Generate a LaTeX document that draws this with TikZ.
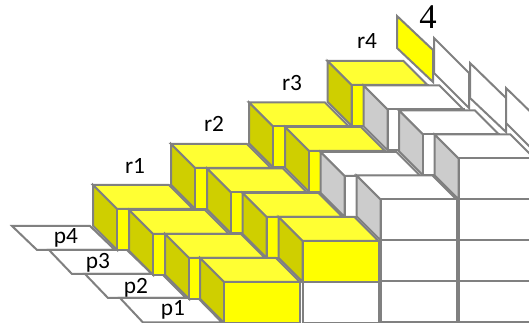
\documentclass[tikz,border=0pt]{standalone}
\usepackage{fontspec}
\setsansfont{Carlito}
\setmainfont{Liberation Serif}

\definecolor{boxgray}{HTML}{808080}
\definecolor{yellowtopfill}{HTML}{FFFF33}
\definecolor{yellowfrontfill}{HTML}{FFFF00}
\definecolor{yellowsidefill}{HTML}{CFCF00}
\definecolor{whitesidefill}{HTML}{CCCCCC}

\tikzset{
  yellowtop/.style = {draw = boxgray, fill = yellowtopfill},
  yellowside/.style = {draw = boxgray, fill = yellowsidefill},
  yellowfront/.style = {draw = boxgray, fill = yellowfrontfill},
  whitetop/.style = {draw = boxgray, fill = white},
  whiteside/.style = {draw = boxgray, fill = whitesidefill},
  whitefront/.style = {draw = boxgray, fill = white},
  rowlabel/.style = {font = \sffamily\fontsize{17.5}{17.5}\selectfont, text = black, inner sep = 0pt}
}

\newcommand{\cellbox}[3]{
  \filldraw[#3top] (#1, #2) -- ++(76, 0) -- ++(-24, -24) -- ++(-76, 0) -- cycle;
  \filldraw[#3side] (#1, #2) -- ++(-24, -24) -- ++(0, 40.7) -- ++(24, 24) -- cycle;
  \filldraw[#3front] (#1, #2) rectangle ++(76, 40.7);
}

\begin{document}
\begin{tikzpicture}[x = 0.75pt, y = -0.75pt, line width = 1.5pt]
  \useasboundingbox (0, 0) rectangle (529, 323);
  \clip (0, 0) rectangle (529, 323);

  % back plates
  \filldraw[yellowfront] (397, 16) -- (433, 50) -- (433, 82) -- (397, 48) -- cycle;
  \filldraw[whitefront] (434, 38) -- (469, 73) -- (469, 108) -- (434, 73) -- cycle;
  \filldraw[whitefront] (470, 63) -- (506, 98) -- (506, 132) -- (470, 98) -- cycle;
  \filldraw[whitefront] (506, 88) -- (542, 123) -- (542, 159) -- (506, 123) -- cycle;

  % ground plates
  \filldraw[whitefront] (12, 226) -- (90, 226) -- (115, 250) -- (37, 250) -- cycle;
  \filldraw[whitefront] (49, 250) -- (127, 250) -- (152, 274) -- (72, 274) -- cycle;
  \filldraw[whitefront] (85, 274) -- (162, 274) -- (186, 298) -- (108, 298) -- cycle;
  \filldraw[whitefront] (120, 298) -- (198, 298) -- (222, 322.5) -- (143, 322.5) -- cycle;

  % row p4
  \cellbox{351.5}{85}{yellow}
  \cellbox{273}{126.5}{yellow}
  \cellbox{195}{168}{yellow}
  \cellbox{117}{209}{yellow}

  % row p3
  \cellbox{387.5}{109.5}{white}
  \cellbox{309}{151}{yellow}
  \cellbox{231}{192.5}{yellow}
  \cellbox{153}{234}{yellow}

  % row p2
  \cellbox{423}{134.5}{white}
  \cellbox{344.5}{176}{white}
  \cellbox{266.5}{217}{yellow}
  \cellbox{189}{258}{yellow}

  % row p1
  \cellbox{458.5}{158.5}{white}
  \cellbox{380.5}{199.5}{white}
  \cellbox{302.5}{241}{yellow}
  \cellbox{224}{282}{yellow}

  % cells under the front row
  \filldraw[whitefront] (458.5, 199.5) rectangle ++(76, 41);
  \filldraw[whitefront] (458.5, 240.5) rectangle ++(76, 41);
  \filldraw[whitefront] (458.5, 281.5) rectangle ++(76, 41);
  \filldraw[whitefront] (380.5, 240.5) rectangle ++(76, 41);
  \filldraw[whitefront] (380.5, 281.5) rectangle ++(76, 41);
  \filldraw[whitefront] (302.5, 281.7) rectangle ++(76, 41);

  % labels
  \node[rowlabel] (p4) at (66, 238) {p4};
  \node[rowlabel] (p3) at (98, 263) {p3};
  \node[rowlabel] (p2) at (136, 288) {p2};
  \node[rowlabel] (p1) at (173, 310) {p1};
  \node[rowlabel] (r1) at (135, 166) {r1};
  \node[rowlabel] (r2) at (214, 124) {r2};
  \node[rowlabel] (r3) at (292, 83) {r3};
  \node[rowlabel] (r4) at (367, 41) {r4};
  \node[inner sep = 0pt, font = \rmfamily\fontsize{26}{26}\selectfont] (four) at (428, 17) {4};
\end{tikzpicture}
\end{document}
